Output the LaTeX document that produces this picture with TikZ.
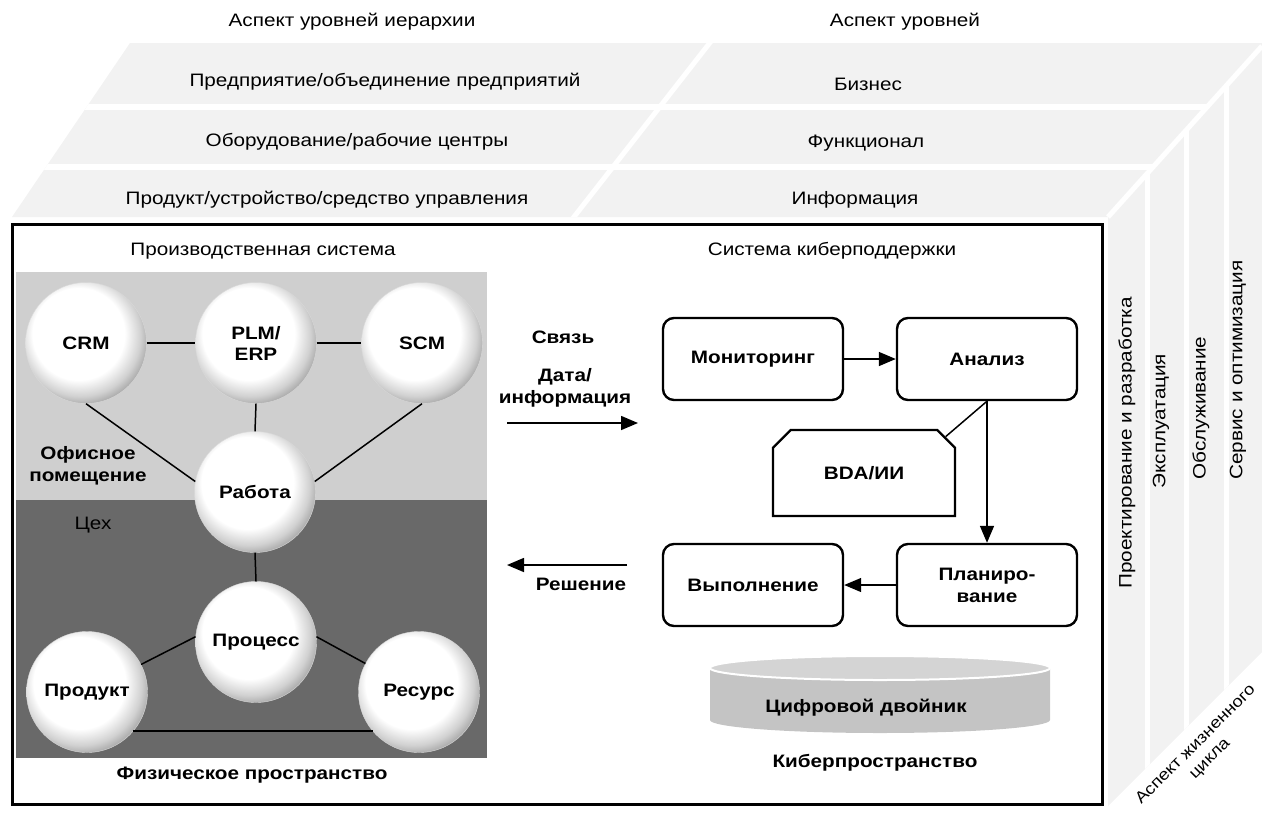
\documentclass[tikz,border=0pt]{standalone}
\usepackage{fontspec}
\setmainfont{Liberation Sans}[FakeStretch=1.15]
\usepackage{tikz}
\usetikzlibrary{arrows.meta,positioning,shapes.misc}
\definecolor{facecolor}{RGB}{242,242,242}
\definecolor{officecolor}{RGB}{207,207,207}
\definecolor{shopcolor}{RGB}{105,105,105}
\definecolor{twincolor}{RGB}{196,196,196}
\definecolor{twintopcolor}{RGB}{212,212,212}
% white ball with grey rim, light from upper left
\pgfdeclareradialshading{ballshade}{\pgfpoint{-5bp}{6bp}}{%
  color(0bp)=(white); color(19bp)=(white); color(25bp)=(black!18);
  color(28bp)=(black!32); color(50bp)=(black!32)}

\begin{document}
\begin{tikzpicture}[x=1pt, y=-1pt,
  every node/.style={font=\fontsize{18}{22}\selectfont, inner sep=1pt},
  ball/.style={circle, minimum size=121pt, inner sep=0pt, shade, shading=ballshade,
    draw=black!15, line width=0.4pt, align=center, font=\bfseries\fontsize{18}{21}\selectfont},
  cbox/.style={draw, line width=2.4pt, rounded corners=11pt, minimum width=180pt,
    minimum height=82pt, align=center, font=\bfseries\fontsize{18}{22}\selectfont},
  bold/.style={font=\bfseries\fontsize{18}{22}\selectfont, align=center},
  flow/.style={-{Triangle[length=17pt,width=14pt]}, line width=1.6pt},
  link/.style={line width=1.5pt},
  gap/.style={white, line width=6pt}]

  \useasboundingbox (0,0) rectangle (1262,815);

  % Cube: top face = hierarchy levels, right face = life cycle
  \def\topface{(12,217) -- (130,43) -- (1262,43) -- (1262,46) -- (1108,217) -- cycle}
  \def\sideface{(1108,217) -- (1262,46) -- (1262,652) -- (1108,806) -- cycle}
  \fill[facecolor] \topface;
  \fill[facecolor] \sideface;
  \begin{scope}
    \clip \topface;
    \foreach \y in {107,167} {
      \draw[gap] (0,\y) -- (1262,\y);
    }
    \draw[gap,line width=5pt] (570,222) -- (712,40);
  \end{scope}
  \begin{scope}
    \clip \sideface;
    \foreach \x in {1147,1186,1226} {
      \draw[gap,line width=5pt] (\x,0) -- (\x,815);
    }
  \end{scope}
  \draw[gap,line width=5pt] (1108,217) -- (1262,46);

  % Level labels
  \node (hieraspect) at (352,22) {Аспект уровней иерархии};
  \node (layeraspect) at (905,22) {Аспект уровней};
  \node (enterprise) at (385,82) {Предприятие/объединение предприятий};
  \node (business) at (868,84) {Бизнес};
  \node (station) at (357,142) {Оборудование/рабочие центры};
  \node (function) at (866,143) {Функционал};
  \node (device) at (327,200) {Продукт/устройство/средство управления};
  \node (information) at (855,200) {Информация};

  % Life cycle labels
  \node[rotate=90] (design) at (1127,443) {Проектирование и разработка};
  \node[rotate=90] (operation) at (1161,421) {Эксплуатация};
  \node[rotate=90] (maintenance) at (1201,408) {Обслуживание};
  \node[rotate=90] (service) at (1238,370) {Сервис и оптимизация};
  \node[rotate=45, align=center, font=\fontsize{16}{20}\selectfont] (lifeaspect)
    at (1203,752) {Аспект жизненного\\цикла};

  % Main frame
  \draw[line width=3pt] (12,224) rectangle (1102,804);

  % Physical space
  \node (prodsys) at (263,251) {Производственная система};
  \fill[officecolor] (16,272) rectangle (487,500);
  \fill[shopcolor] (16,500) rectangle (487,758);
  \node[bold] (office) at (88,466) {Офисное\\помещение};
  \node (shop) at (93,525) {Цех};

  \node[ball] (crm) at (86,343) {CRM};
  \node[ball] (plm) at (256,343) {PLM/\\ERP};
  \node[ball] (scm) at (422,343) {SCM};
  \node[ball] (work) at (255,492) {Работа};
  \node[ball] (proc) at (256,642) {Процесс};
  \node[ball] (prod) at (87,692) {Продукт};
  \node[ball] (res) at (419,692) {Ресурс};

  \draw[link] (crm.east) -- (plm.west);
  \draw[link] (plm.east) -- (scm.west);
  \draw[link] (plm.south) -- (work.north);
  \draw[link] (crm.south) -- (work.170);
  \draw[link] (scm.south) -- (work.10);
  \draw[link] (work.south) -- (proc.north);
  \draw[link] (proc.175) -- (prod.27);
  \draw[link] (proc.5) -- (res.152);
  \draw[link] (prod.-40) -- (res.-140);

  \node[bold] (physical) at (252,775) {Физическое пространство};

  % Data flow between the two spaces
  \node[bold] (comm) at (563,337) {Связь};
  \node[bold] (data) at (565,388) {Дата/\\информация};
  \coordinate (datain) at (507,423);
  \coordinate (dataout) at (638,423);
  \draw[flow] (datain) -- (dataout);
  \coordinate (decfrom) at (627,565);
  \coordinate (decto) at (507,565);
  \draw[flow] (decfrom) -- (decto);
  \node[bold] (decision) at (581,584) {Решение};

  % Cyber space
  \node (cybersys) at (832,251) {Система киберподдержки};
  \node[cbox] (monitor) at (753,359) {Мониторинг};
  \node[cbox] (analysis) at (987,359) {Анализ};
  \node[draw, line width=2.4pt, chamfered rectangle,
    chamfered rectangle corners={north west, north east},
    chamfered rectangle xsep=10pt, chamfered rectangle ysep=10pt,
    minimum width=182pt, minimum height=86pt, bold] (bda) at (864,473) {BDA/ИИ};
  \node[cbox] (planning) at (987,585) {Планиро-\\вание};
  \node[cbox] (execution) at (753,585) {Выполнение};

  \draw[flow] (monitor) -- (analysis);
  \draw[link] (analysis.south) -- (bda.24);
  \draw[flow] (analysis.south) -- (planning.north);
  \draw[flow,line width=1.3pt] (planning) -- (execution);

  % Digital twin cylinder
  \fill[twincolor] (710,668) -- (710,720)
    arc[start angle=180, end angle=0, x radius=170, y radius=13] -- (1050,668) -- cycle;
  \filldraw[fill=twintopcolor, draw=white, line width=2pt] (880,668) ellipse [x radius=170, y radius=12];
  \node[bold] (twin) at (866,708) {Цифровой двойник};
  \node[bold] (cyberspace) at (875,763) {Киберпространство};
\end{tikzpicture}
\end{document}
